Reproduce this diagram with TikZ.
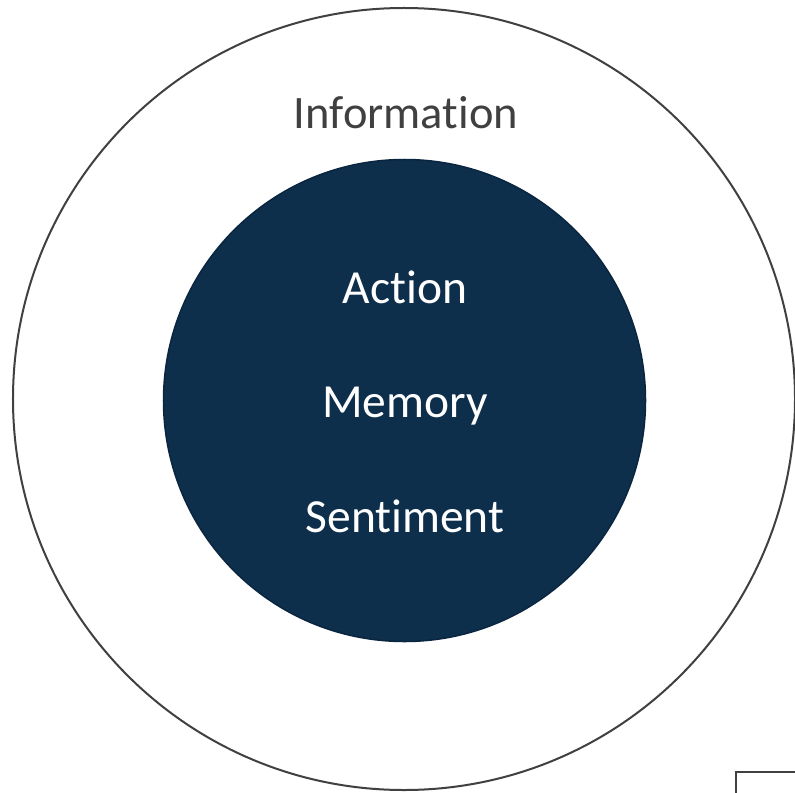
\documentclass[tikz,border=0pt]{standalone}
\usepackage{fontspec}
\setmainfont[Ligatures={NoCommon,NoRare}]{Carlito}
\definecolor{ringline}{HTML}{404040}
\definecolor{corefill}{HTML}{0E2F4B}
\definecolor{coreline}{HTML}{0A2540}
\definecolor{labelgray}{HTML}{404040}
\tikzset{
  outerring/.style={draw=ringline, line width=2bp, fill=white},
  corecircle/.style={draw=coreline, line width=1.5bp, fill=corefill},
  outerlabel/.style={anchor=base, text=labelgray, inner sep=0pt, font=\fontsize{46.5bp}{56bp}\selectfont},
  corelabel/.style={anchor=base, text=white, inner sep=0pt, font=\fontsize{47.5bp}{57bp}\selectfont},
  cornerbox/.style={draw=ringline, line width=2bp}
}
\begin{document}
\begin{tikzpicture}[x=1bp,y=-1bp]
  \useasboundingbox (0,0) rectangle (795,793);
  \fill[white] (0,0) rectangle (795,793);
  % outer ring and inner core
  \node[outerring, circle, minimum size=782bp, inner sep=0pt] (outer) at (404,399) {};
  \node[corecircle, circle, minimum size=482bp, inner sep=0pt] (core) at (404.5,400.5) {};
  % labels
  \node[outerlabel] (info) at (406,128) {Information};
  \node[corelabel] (action) at (405,303) {Action};
  \node[corelabel] (memory) at (405,417) {Memory};
  \node[corelabel] (sentiment) at (405,532) {Sentiment};
  % partially visible box in the corner
  \draw[cornerbox] (736,800) -- (736,772) -- (800,772);
\end{tikzpicture}
\end{document}
